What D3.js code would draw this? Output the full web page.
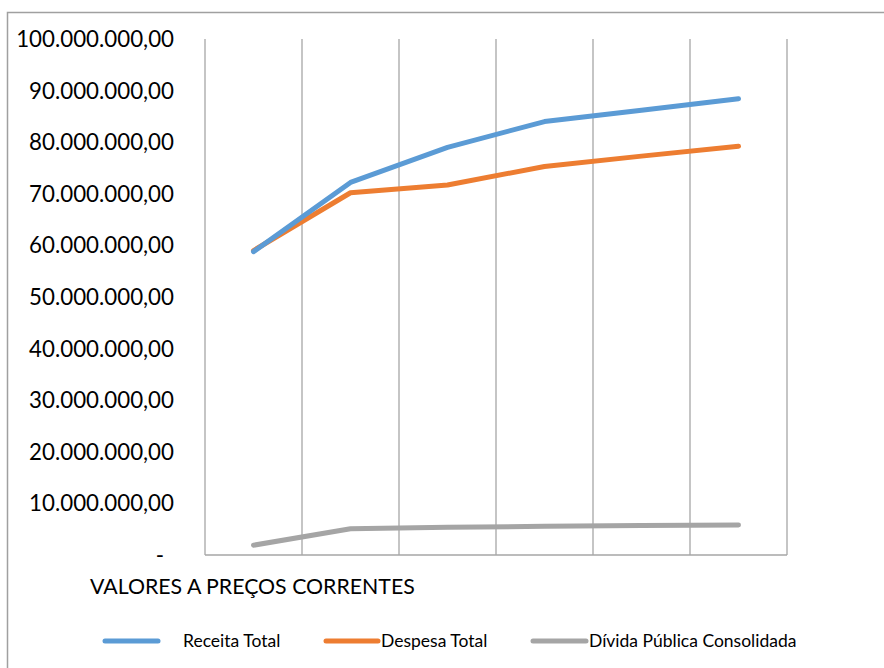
<!DOCTYPE html>
<html>
<head>
<meta charset="utf-8">
<script src="https://cdn.jsdelivr.net/npm/d3@7"></script>
<style>
  body { margin: 0; background: #fff; }
  text { font-family: Lato, "Open Sans", sans-serif; fill: #000; }
</style>
</head>
<body>
<div id="chart"></div>
<script>
// data (6 periods, no x labels)
const periods = ["1", "2", "3", "4", "5", "6"];
const receita = [58.8e6, 72.2e6, 79.0e6, 84.0e6, 86.2e6, 88.4e6];
const despesa = [59.0e6, 70.2e6, 71.7e6, 75.3e6, 77.3e6, 79.2e6];
const divida = [1.9e6, 5.1e6, 5.4e6, 5.55e6, 5.7e6, 5.8e6];
const yTicks = [0, 10e6, 20e6, 30e6, 40e6, 50e6, 60e6, 70e6, 80e6, 90e6, 100e6];
const seriesNames = ["Receita Total", "Despesa Total", "Dívida Pública Consolidada"];
const colors = ["#5b9bd5", "#ed7d31", "#a5a5a5"];

const width = 884, height = 668;
const plot = {left: 205, right: 787, top: 39, bottom: 555};

let svg = d3.select("#chart")
    .append("svg")
    .attr("width", width)
    .attr("height", height);

// outer chart border (left and top visible)
svg.append("path")
    .attr("d", `M7.5,${height} V12.5 H${width}`)
    .attr("fill", "none")
    .attr("stroke", "#a0a0a0")
    .attr("stroke-width", 1.5);

const x = d3.scaleBand().domain(periods).range([plot.left, plot.right]);
const y = d3.scaleLinear().domain([0, 100e6]).range([plot.bottom, plot.top]);

// y tick labels in pt-BR style
const fmt = d => d === 0 ? "-" : d3.format(",.2f")(d).replace(/,/g, "#").replace(".", ",").replace(/#/g, ".");

svg.append("g")
    .selectAll("text")
    .data(yTicks)
    .join("text")
    .attr("x", d => d === 0 ? 160 : 174)
    .attr("y", d => y(d))
    .attr("dy", "0.36em")
    .attr("text-anchor", d => d === 0 ? "middle" : "end")
    .style("font-size", "22.3px")
    .text(fmt);

// vertical gridlines on category boundaries
const bounds = periods.map(p => x(p)).concat([plot.right]);
svg.append("g")
    .selectAll("line")
    .data(bounds)
    .join("line")
    .attr("x1", d => d)
    .attr("x2", d => d)
    .attr("y1", plot.top)
    .attr("y2", plot.bottom)
    .attr("stroke", "#a6a6a6")
    .attr("stroke-width", 1.3);

// x axis baseline
svg.append("line")
    .attr("x1", plot.left)
    .attr("x2", plot.right)
    .attr("y1", plot.bottom)
    .attr("y2", plot.bottom)
    .attr("stroke", "#a6a6a6")
    .attr("stroke-width", 1.3);

// lines
const line = d3.line()
    .x((d, i) => x(periods[i]) + x.bandwidth() / 2)
    .y(d => y(d));

const allSeries = [divida, despesa, receita];
const allColors = [colors[2], colors[1], colors[0]];
svg.append("g")
    .selectAll("path")
    .data(allSeries)
    .join("path")
    .attr("d", line)
    .attr("fill", "none")
    .attr("stroke", (d, i) => allColors[i])
    .attr("stroke-width", 5)
    .attr("stroke-linecap", "round")
    .attr("stroke-linejoin", "round");

// axis title under the plot
svg.append("text")
    .attr("x", 90)
    .attr("y", 594)
    .style("font-size", "21.3px")
    .text("VALORES A PREÇOS CORRENTES");

// legend
const legend = [
    {x1: 105, x2: 158, tx: 183},
    {x1: 326, x2: 378, tx: 381},
    {x1: 533, x2: 586, tx: 589}
];
const lg = svg.append("g")
    .selectAll("g")
    .data(legend)
    .join("g");

lg.append("line")
    .attr("x1", d => d.x1)
    .attr("x2", d => d.x2)
    .attr("y1", 641)
    .attr("y2", 641)
    .attr("stroke", (d, i) => colors[i])
    .attr("stroke-width", 5)
    .attr("stroke-linecap", "round");

lg.append("text")
    .attr("x", d => d.tx)
    .attr("y", 641)
    .attr("dy", "0.36em")
    .style("font-size", "17.5px")
    .text((d, i) => seriesNames[i]);
</script>
</body>
</html>
